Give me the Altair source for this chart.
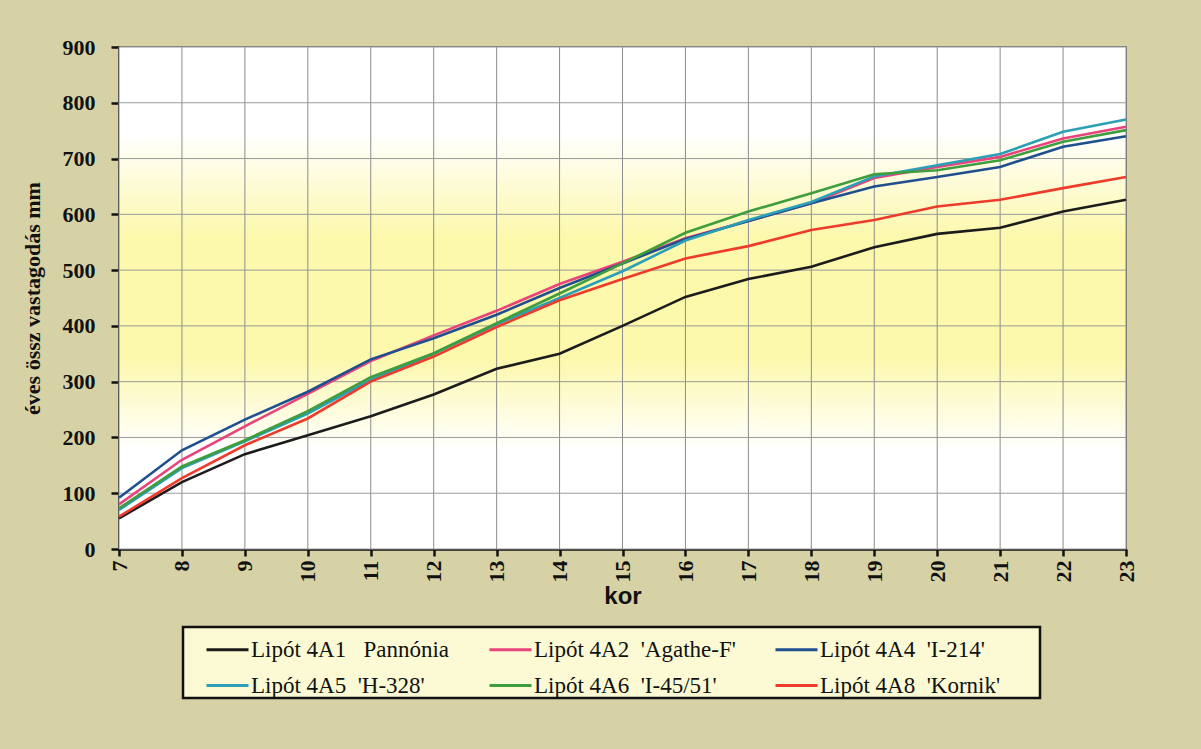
import altair as alt
import pandas as pd

years = list(range(7, 24))
y_ticks = list(range(0, 1000, 100))

NB = "\u00a0"
PAD = "\u2800"
series_names = [
    "Lipót 4A1" + NB * 3 + "Pannónia",
    "Lipót 4A2" + NB * 2 + "'Agathe-F'",
    "Lipót 4A4" + NB * 2 + "'I-214'" + NB + PAD * 2,
    "Lipót 4A5" + NB * 2 + "'H-328'",
    "Lipót 4A6" + NB * 2 + "'I-45/51'",
    "Lipót 4A8" + NB * 2 + "'Kornik'" + NB + PAD * 2,
]
series_colors = ["#1c1c1c", "#e9437c", "#1f4f8f", "#2b9fb7", "#3e9d3c", "#ee3b2b"]

v_4A1 = [55, 120, 170, 204, 238, 277, 323, 350, 400, 452, 484, 506, 541, 565, 576, 605, 626]
v_4A2 = [80, 160, 220, 278, 337, 383, 427, 475, 515, 557, 588, 620, 665, 685, 703, 736, 757]
v_4A4 = [92, 177, 232, 282, 340, 378, 420, 468, 512, 556, 588, 620, 650, 667, 685, 721, 740]
v_4A5 = [70, 145, 193, 243, 303, 350, 403, 450, 498, 553, 590, 622, 668, 688, 708, 748, 770]
v_4A6 = [73, 148, 195, 247, 308, 351, 405, 458, 512, 567, 605, 638, 672, 679, 697, 730, 751]
v_4A8 = [58, 127, 186, 234, 300, 345, 398, 446, 484, 521, 543, 572, 590, 614, 626, 647, 667]

all_values = [v_4A1, v_4A2, v_4A4, v_4A5, v_4A6, v_4A8]

rows = []
for name, vals in zip(series_names, all_values):
    for yr, v in zip(years, vals):
        rows.append({"kor": yr, "val": v, "sor": name})
df = pd.DataFrame(rows)

W, H = 1007, 502

xscale = alt.Scale(domain=[years[0], years[-1]], nice=False, zero=False)
yscale = alt.Scale(domain=[y_ticks[0], y_ticks[-1]], nice=False)

tick_font = "Times New Roman, Liberation Serif, DejaVu Serif, serif"

x_axis = alt.Axis(
    values=years, grid=False, title="kor", labelAngle=270,
    labelFont=tick_font, labelFontWeight="bold", labelFontSize=22, labelColor="#111",
    labelPadding=4, tickSize=7, tickWidth=2.5, tickColor="#111",
    domainColor="#111", domainWidth=2.5,
    titleFont="Arial, Liberation Sans, sans-serif", titleFontWeight="bold", titleFontSize=24,
    titleColor="#111", titlePadding=2,
)
y_axis = alt.Axis(
    values=y_ticks, grid=False, title="éves össz vastagodás mm",
    labelFont=tick_font, labelFontWeight="bold", labelFontSize=22, labelColor="#111",
    labelPadding=16, tickSize=8, tickWidth=2.5, tickColor="#111",
    domainColor="#111", domainWidth=2.5,
    titleFont=tick_font, titleFontWeight="bold", titleFontSize=22,
    titleColor="#111", titlePadding=18,
)

gradient = alt.LinearGradient(
    gradient="linear",
    stops=[
        alt.GradientStop(color="#ffffff", offset=0),
        alt.GradientStop(color="#ffffff", offset=0.17),
        alt.GradientStop(color="#fcf8ac", offset=0.38),
        alt.GradientStop(color="#fcf8ac", offset=0.62),
        alt.GradientStop(color="#ffffff", offset=0.8),
        alt.GradientStop(color="#ffffff", offset=1),
    ],
    x1=0, x2=0, y1=0, y2=1,
)

bg_df = pd.DataFrame({"kor": [years[0]], "kor2": [years[-1]], "val": [y_ticks[0]], "val2": [y_ticks[-1]]})
bg = alt.Chart(bg_df).mark_rect(color=gradient).encode(
    x=alt.X("kor:Q", scale=xscale, axis=x_axis),
    x2="kor2:Q",
    y=alt.Y("val:Q", scale=yscale, axis=y_axis),
    y2="val2:Q",
)

vgrid = alt.Chart(pd.DataFrame({"kor": years})).mark_rule(color="#8c8c8c", strokeWidth=1).encode(
    x=alt.X("kor:Q", scale=xscale, axis=x_axis)
)
hgrid = alt.Chart(pd.DataFrame({"val": y_ticks})).mark_rule(color="#9a9a9a", strokeWidth=1).encode(
    y=alt.Y("val:Q", scale=yscale, axis=y_axis)
)

lines = alt.Chart(df).mark_line(strokeWidth=2.6).encode(
    x=alt.X("kor:Q", scale=xscale, axis=x_axis),
    y=alt.Y("val:Q", scale=yscale, axis=y_axis),
    color=alt.Color(
        "sor:N",
        scale=alt.Scale(domain=series_names, range=series_colors),
        sort=series_names,
        legend=alt.Legend(
            title=None, orient="none", legendX=64, legendY=580,
            columns=3, direction="horizontal", gridAlign="each",
            symbolType="stroke", symbolSize=1764, symbolStrokeWidth=3,
            symbolOffset=22, labelOffset=1,
            labelFont=tick_font, labelFontSize=23, labelColor="#111", labelLimit=0,
            fillColor="#fbfad4", strokeColor="#111",
            padding=0, rowPadding=1, columnPadding=16,
        ),
    ),
    order="kor:Q",
)

chart = alt.layer(bg, vgrid, hgrid, lines).properties(
    width=W, height=H,
    autosize=alt.AutoSizeParams(type="none"),
    padding={"left": 119, "top": 47, "right": 75, "bottom": 200},
    background="#d6d2a6",
).configure_view(stroke="#555555", strokeWidth=1.5).configure_legend(strokeWidth=2.5)

chart.save("out.html", embed_options={"renderer": "svg", "actions": False})
